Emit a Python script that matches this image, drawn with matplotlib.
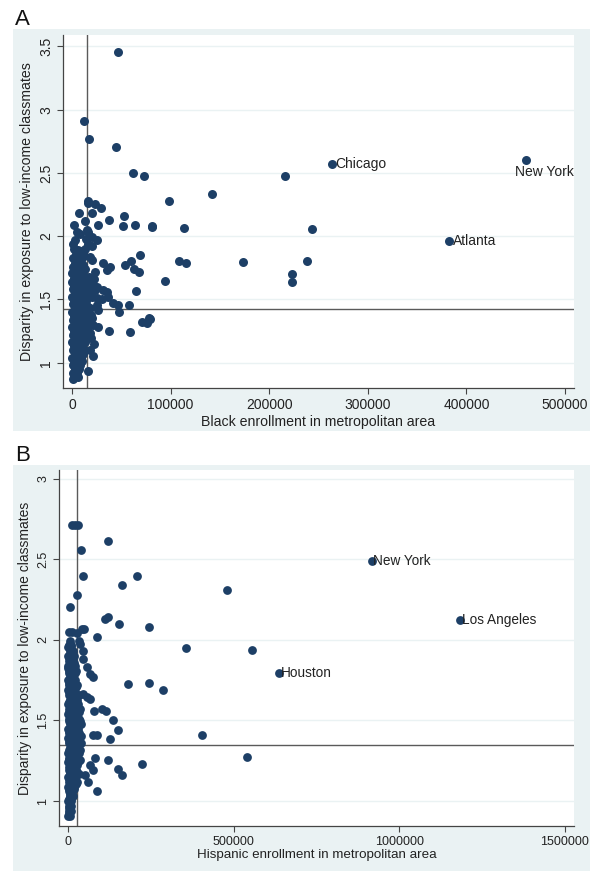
import matplotlib
matplotlib.use("Agg")
import matplotlib.pyplot as plt
from matplotlib.patches import Rectangle
from matplotlib.ticker import FixedLocator, FuncFormatter

plt.rcParams['font.family'] = ['Liberation Sans', 'DejaVu Sans']

# ---------------- Panel A: Black enrollment (thousands) vs disparity ----------------
black_k = [
    # dense column near zero
    2, 6, 10, 4, 8, 12, 1, 5, 9, 3, 7, 11, 1, 5, 13, 3, 9, 0.5, 7, 11,
    2, 6, 10, 14, 0, 4, 8, 12, 2, 7, 11, 15, 1, 5, 9, 13, 3, 7, 11, 16,
    0, 4, 9, 13, 2, 6, 10, 14, 1, 5, 8, 12, 3, 7, 11, 15, 0, 4, 9, 13,
    2, 6, 10, 14, 1, 5, 8, 12, 3, 7, 11, 15, 0, 4, 9, 13, 2, 6, 10, 14,
    1, 5, 8, 12, 3, 7, 11, 0, 4, 9, 13, 2, 6, 10, 1, 5, 8, 12, 3, 7,
    11, 0, 4, 9, 2, 6, 10, 1, 5, 8, 3, 7, 1, 5, 2, 6, 1,
    # points just right of the column
    17, 22, 15, 19, 16, 22, 18, 14, 15, 20,
    16.6, 23.3, 29.1, 7.4, 37.8, 13.2, 26.1, 2.3, 5.4, 8.1, 16.6, 20, 3, 25, 1.3,
    16.6, 20, 13.2, 6.4, 18.3, 20, 31.1, 38.5, 35.2, 23.3, 20, 25, 16.6, 23.3,
    31.8, 35.2, 20, 25, 30.1, 36.8, 41.9, 47, 47.7, 57.8, 25, 18.3, 20, 26.1,
    21.6, 26.7, 37.8, 59.1, 18.3, 19.3, 21.6, 16.6, 12.2, 17.2, 16.2,
    # spread of larger metros
    46.3, 44.3, 61.9, 73, 141.7, 98.4, 216.3, 81.4, 113.9, 243.4, 53, 52, 63.9,
    80.8, 69, 53.8, 59.8, 63.2, 68, 64.9, 108.8, 115.3, 173.1, 238.6, 223.1,
    223.4, 94.3, 79.1, 71.3, 75.8, 78.4,
]
disparity_a = [
    1.90, 1.89, 1.88, 1.86, 1.85, 1.84, 1.83, 1.82, 1.81, 1.79, 1.78, 1.77, 1.76, 1.75, 1.74, 1.73, 1.72, 1.71, 1.70, 1.69,
    1.67, 1.67, 1.67, 1.67, 1.64, 1.64, 1.64, 1.64, 1.61, 1.61, 1.61, 1.61, 1.58, 1.58, 1.58, 1.58, 1.55, 1.55, 1.55, 1.55,
    1.52, 1.52, 1.52, 1.52, 1.49, 1.49, 1.49, 1.49, 1.46, 1.46, 1.46, 1.46, 1.43, 1.43, 1.43, 1.43, 1.40, 1.40, 1.40, 1.40,
    1.37, 1.37, 1.37, 1.37, 1.34, 1.34, 1.34, 1.34, 1.31, 1.31, 1.31, 1.31, 1.28, 1.28, 1.28, 1.28, 1.25, 1.25, 1.25, 1.25,
    1.22, 1.22, 1.22, 1.22, 1.19, 1.19, 1.19, 1.16, 1.16, 1.16, 1.16, 1.13, 1.13, 1.13, 1.10, 1.10, 1.10, 1.10, 1.07, 1.07,
    1.07, 1.04, 1.04, 1.04, 1.01, 1.01, 1.01, 0.98, 0.98, 0.98, 0.95, 0.95, 0.92, 0.92, 0.89, 0.89, 0.87,
    1.68, 1.66, 1.45, 1.38, 1.25, 1.15, 1.10, 1.98, 2.05, 2.18,
    2.265, 2.252, 2.226, 2.18, 2.13, 2.12, 2.085, 2.085, 2.03, 2.02, 2.03, 1.995, 1.97, 1.97, 1.94,
    1.94, 1.92, 1.90, 1.86, 1.837, 1.81, 1.785, 1.76, 1.73, 1.72, 1.63, 1.60, 1.593, 1.575,
    1.575, 1.56, 1.52, 1.51, 1.50, 1.52, 1.475, 1.457, 1.404, 1.457, 1.457, 1.43, 1.35, 1.417,
    1.30, 1.286, 1.254, 1.239, 1.233, 1.194, 1.05, 0.937, 2.913, 2.77, 2.276,
    3.459, 2.703, 2.499, 2.475, 2.336, 2.276, 2.478, 2.076, 2.065, 2.06, 2.16, 2.08, 2.09,
    2.08, 1.85, 1.77, 1.80, 1.74, 1.72, 1.567, 1.803, 1.785, 1.793, 1.803, 1.70,
    1.635, 1.648, 1.344, 1.325, 1.317, 1.35,
]
labeled_a = ["Chicago", "Atlanta", "New York"]
labeled_a_k = [263.3, 382.4, 460.1]
labeled_a_y = [2.572, 1.958, 2.604]
ref_a_x_k = 15.2
ref_a_y = 1.425
xticks_a = [0, 100000, 200000, 300000, 400000, 500000]
yticks_a = [1, 1.5, 2, 2.5, 3, 3.5]

# ---------------- Panel B: Hispanic enrollment (thousands) vs disparity ----------------
hisp_k = [
    # dense column near zero
    3, 12, 2, 10, 5, 14, 1, 9, 18, 4, 13, 0, 8, 20, 3, 12, 24, 6, 16, 1, 10, 22,
    4, 14, 28, 0, 8, 18, 3, 12, 24, 33, 6, 16, 28, 1, 10, 20, 30, 4, 14, 24, 36,
    0, 8, 18, 28, 3, 12, 22, 32, 6, 16, 26, 40, 1, 10, 20, 30, 4, 14, 24, 34,
    0, 8, 18, 28, 3, 12, 22, 38, 6, 16, 26, 1, 10, 20, 32, 4, 14, 24, 0, 8, 18, 30,
    3, 12, 22, 6, 16, 28, 1, 10, 20, 4, 14, 26, 0, 8, 18, 3, 12, 6, 15, 1, 9,
    4, 10, 2, 8, 1, 5,
    # second layer of the column
    6, 1, 7, 2, 15, 6, 17, 1, 10, 4, 20, 8, 14, 2, 18,
    6, 12, 24, 2, 14, 22, 8, 20, 3, 13, 24, 7, 18, 28,
    2, 12, 22, 32, 7, 17, 27, 2, 12, 22, 35, 8, 18, 30,
    2, 12, 22, 28, 7, 17, 27, 38, 2, 12, 22, 32, 8, 18, 30,
    2, 12, 24, 35, 7, 17, 28, 2, 12, 22, 36, 8, 18, 27,
    2, 12, 24, 7, 17, 32, 2, 12, 22, 7, 14, 24, 2, 9, 18,
    5, 12, 3, 8, 6, 2, 4,
    # upper part of the column and its neighbours
    12, 22, 30, 121.8, 39.3, 44.4, 207.5, 162.2, 26.3, 6, 111.8, 121.8, 154,
    244.7, 26.3, 41.4, 49.2, 86.7, 34.1, 8.2, 479.4, 355.6, 555, 36.3,
    46.2, 44.4, 58.3, 66.5, 74.6, 46.2, 56.4, 66.5,
    # spread of larger metros
    182.2, 243.8, 287.9, 79.5, 101.8, 114.8, 135, 150, 76.4, 88.5, 126.9,
    222.6, 121.8, 81.6, 66.5, 74.6, 152, 162.2, 51.4, 61.3, 86.7,
    404.8, 539.9,
]
disparity_b = [
    2.05, 2.05, 1.97, 1.97, 1.93, 1.93, 1.90, 1.90, 1.90, 1.87, 1.87, 1.84, 1.84, 1.84, 1.81, 1.81, 1.81, 1.78, 1.78, 1.75, 1.75, 1.75,
    1.72, 1.72, 1.72, 1.69, 1.69, 1.69, 1.66, 1.66, 1.66, 1.66, 1.63, 1.63, 1.63, 1.60, 1.60, 1.60, 1.60, 1.57, 1.57, 1.57, 1.57,
    1.54, 1.54, 1.54, 1.54, 1.51, 1.51, 1.51, 1.51, 1.48, 1.48, 1.48, 1.48, 1.45, 1.45, 1.45, 1.45, 1.42, 1.42, 1.42, 1.42,
    1.39, 1.39, 1.39, 1.39, 1.36, 1.36, 1.36, 1.36, 1.33, 1.33, 1.33, 1.30, 1.30, 1.30, 1.30, 1.27, 1.27, 1.27, 1.24, 1.24, 1.24, 1.24,
    1.21, 1.21, 1.21, 1.18, 1.18, 1.18, 1.15, 1.15, 1.15, 1.12, 1.12, 1.12, 1.09, 1.09, 1.09, 1.06, 1.06, 1.03, 1.03, 1.00, 1.00,
    0.97, 0.97, 0.94, 0.94, 0.91, 0.91,
    1.995, 1.955, 1.915, 1.885, 1.885, 1.855, 1.855, 1.825, 1.825, 1.795, 1.795, 1.765, 1.765, 1.735, 1.735,
    1.705, 1.705, 1.705, 1.675, 1.675, 1.675, 1.645, 1.645, 1.615, 1.615, 1.615, 1.585, 1.585, 1.585,
    1.555, 1.555, 1.555, 1.555, 1.525, 1.525, 1.525, 1.495, 1.495, 1.495, 1.495, 1.465, 1.465, 1.465,
    1.435, 1.435, 1.435, 1.435, 1.405, 1.405, 1.405, 1.405, 1.375, 1.375, 1.375, 1.375, 1.345, 1.345, 1.345,
    1.315, 1.315, 1.315, 1.315, 1.285, 1.285, 1.285, 1.255, 1.255, 1.255, 1.255, 1.225, 1.225, 1.225,
    1.195, 1.195, 1.195, 1.165, 1.165, 1.165, 1.135, 1.135, 1.135, 1.105, 1.105, 1.105, 1.075, 1.075, 1.075,
    1.045, 1.045, 1.015, 1.015, 0.985, 0.955, 0.925,
    2.716, 2.716, 2.716, 2.615, 2.556, 2.395, 2.40, 2.34, 2.282, 2.206, 2.13, 2.144, 2.10,
    2.08, 2.045, 2.066, 2.07, 2.02, 1.994, 1.963, 2.307, 1.952, 1.938, 1.977,
    1.932, 1.88, 1.83, 1.79, 1.77, 1.665, 1.644, 1.634,
    1.727, 1.73, 1.69, 1.557, 1.572, 1.562, 1.50, 1.438, 1.413, 1.407, 1.387,
    1.228, 1.253, 1.27, 1.222, 1.19, 1.20, 1.16, 1.16, 1.12, 1.064,
    1.41, 1.273,
]
labeled_b = ["New York", "Los Angeles", "Houston"]
labeled_b_k = [917.5, 1184.3, 638.4]
labeled_b_y = [2.488, 2.123, 1.792]
ref_b_x_k = 28.0
ref_b_y = 1.345
xticks_b = [0, 500000, 1000000, 1500000]
yticks_b = [1, 1.5, 2, 2.5, 3]

y_title = "Disparity in exposure to low-income classmates"

# ---------------- styling ----------------
W, H = 596, 871
REGION = "#eaf2f3"
GRID = "#eaf2f3"
NAVY = "#1d3f66"
AXIS = "#444444"
REFLINE = "#5a5a5a"

fig = plt.figure(figsize=(W / 100, H / 100), dpi=100)
fig.patch.set_facecolor("white")


def px_rect(x0, y0, x1, y1):
    """Figure-fraction rectangle from pixel edges (top-left origin)."""
    return [x0 / W, 1 - y1 / H, (x1 - x0) / W, (y1 - y0) / H]


def add_region(x0, y0, x1, y1):
    l, b, w, h = px_rect(x0, y0, x1, y1)
    fig.patches.append(Rectangle((l, b), w, h, transform=fig.transFigure,
                                 facecolor=REGION, edgecolor="none", zorder=-10))


def style_axes(ax, xticks, yticks, xlim, ylim, fs):
    ax.set_facecolor("white")
    ax.set_zorder(1)
    ax.set_xlim(*xlim)
    ax.set_ylim(*ylim)
    for s in ("top", "right"):
        ax.spines[s].set_visible(False)
    for s in ("left", "bottom"):
        ax.spines[s].set_color(AXIS)
        ax.spines[s].set_linewidth(0.9)
    ax.xaxis.set_major_locator(FixedLocator(xticks))
    ax.yaxis.set_major_locator(FixedLocator(yticks))
    ax.xaxis.set_major_formatter(FuncFormatter(lambda v, p: f"{int(round(v))}"))
    ax.yaxis.set_major_formatter(FuncFormatter(lambda v, p: f"{v:g}"))
    ax.tick_params(axis="both", direction="out", length=4, width=0.8,
                   color=AXIS, labelsize=fs, labelcolor="#222222", pad=3)
    for lab in ax.get_yticklabels():
        lab.set_rotation(90)
        lab.set_va("center")
    ax.grid(axis="y", color=GRID, linewidth=1.0, zorder=0)
    ax.set_axisbelow(True)


# ---------------- Panel A ----------------
add_region(13, 29, 590, 431)
fig.text(15 / W, 1 - 25 / H, "A", fontsize=16, color="#111111", ha="left", va="baseline")

axA = fig.add_axes(px_rect(63, 35, 574, 388))
style_axes(axA, xticks_a, yticks_a, (-9000, 509000), (0.80, 3.59), 10)
axA.scatter([v * 1000 for v in black_k], disparity_a, s=42, color=NAVY,
            linewidths=0, zorder=3)
axA.scatter([v * 1000 for v in labeled_a_k], labeled_a_y, s=42, color=NAVY,
            linewidths=0, zorder=3)
axA.axvline(ref_a_x_k * 1000, color=REFLINE, lw=1.0, zorder=2)
axA.axhline(ref_a_y, color=REFLINE, lw=1.0, zorder=2)
for name, xv, yv in zip(labeled_a, labeled_a_k, labeled_a_y):
    if name == "New York":
        axA.annotate(name, (xv * 1000, yv), xytext=(-8, -4), textcoords="offset points",
                     ha="left", va="top", fontsize=10, color="#222222")
    else:
        axA.annotate(name, (xv * 1000, yv), xytext=(2.5, 0), textcoords="offset points",
                     ha="left", va="center", fontsize=10, color="#222222")
axA.set_xlabel("Black enrollment in metropolitan area", fontsize=10.2,
               color="#222222", labelpad=2)
axA.set_ylabel(y_title, fontsize=10.2, color="#222222", labelpad=4)

# ---------------- Panel B ----------------
add_region(13, 465, 590, 871)
fig.text(15 / W, 1 - 461 / H, "B", fontsize=16, color="#111111", ha="left", va="baseline")

axB = fig.add_axes(px_rect(59, 470, 574, 826))
style_axes(axB, xticks_b, yticks_b, (-27000, 1528000), (0.845, 3.055), 9)
axB.scatter([v * 1000 for v in hisp_k], disparity_b, s=40, color=NAVY,
            linewidths=0, zorder=3)
axB.scatter([v * 1000 for v in labeled_b_k], labeled_b_y, s=40, color=NAVY,
            linewidths=0, zorder=3)
axB.axvline(ref_b_x_k * 1000, color=REFLINE, lw=1.0, zorder=2)
axB.axhline(ref_b_y, color=REFLINE, lw=1.0, zorder=2)
for name, xv, yv in zip(labeled_b, labeled_b_k, labeled_b_y):
    axB.annotate(name, (xv * 1000, yv), xytext=(1, 0), textcoords="offset points",
                 ha="left", va="center", fontsize=9.8, color="#222222")
axB.set_xlabel("Hispanic enrollment in metropolitan area", fontsize=9.6,
               color="#222222", labelpad=1)
axB.set_ylabel(y_title, fontsize=10, color="#222222", labelpad=4)

fig.savefig("out.png", dpi=100, facecolor="white")
